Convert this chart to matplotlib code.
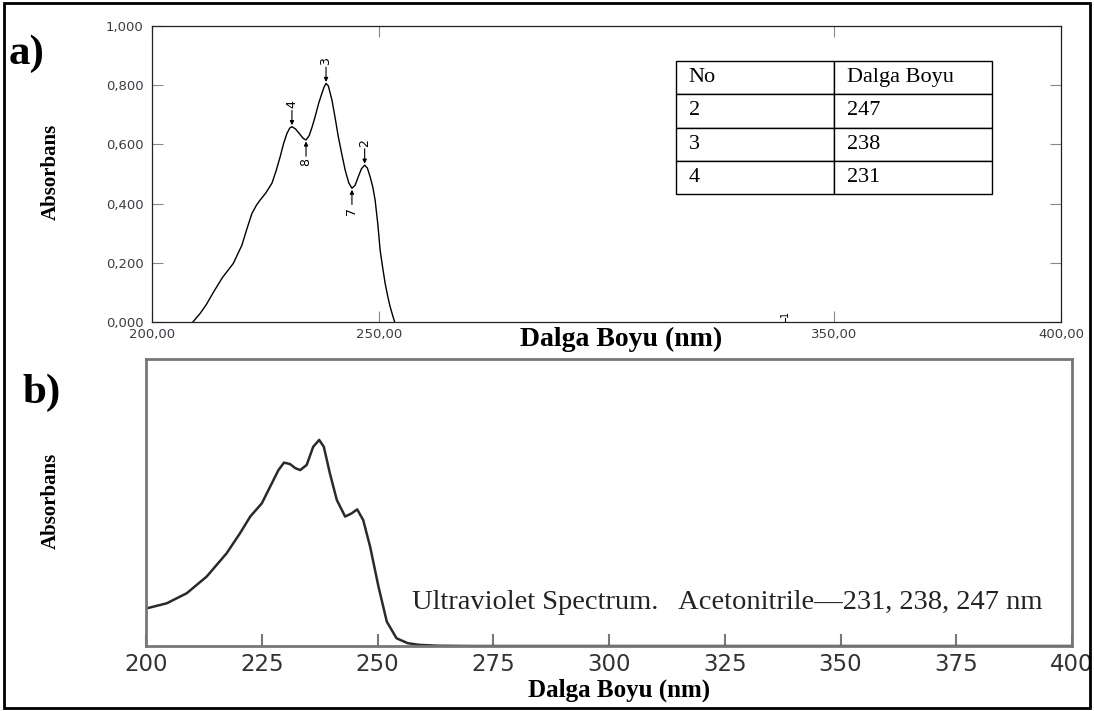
import numpy as np
import matplotlib.pyplot as plt
from matplotlib.patches import Rectangle
from matplotlib.ticker import FuncFormatter

# (a) measured spectrum, nm vs absorbance
wl_a = [209.0, 210.6, 212.0, 213.5, 215.5, 217.9, 219.8, 221.0, 222.0, 223.0,
        223.8, 225.0, 226.4, 227.3, 228.2, 229.0, 229.7, 230.3, 230.8, 231.6,
        232.5, 233.3, 233.9, 234.6, 235.3, 235.9, 236.7, 237.4, 237.9, 238.3,
        238.8, 239.6, 240.3, 241.0, 241.8, 242.5, 243.3, 244.0, 244.7, 245.4,
        246.1, 246.8, 247.4, 248.0, 248.6, 249.1, 249.7, 250.2, 250.8, 251.3,
        251.9, 252.4, 253.0, 253.4]
abs_a = [0.000, 0.029, 0.060, 0.100, 0.150, 0.198, 0.260, 0.320, 0.367, 0.395,
         0.412, 0.435, 0.469, 0.510, 0.558, 0.605, 0.637, 0.655, 0.660, 0.652,
         0.635, 0.620, 0.615, 0.630, 0.662, 0.694, 0.740, 0.773, 0.795, 0.806,
         0.798, 0.750, 0.690, 0.626, 0.565, 0.514, 0.470, 0.452, 0.462, 0.491,
         0.518, 0.530, 0.520, 0.491, 0.455, 0.412, 0.330, 0.243, 0.180, 0.131,
         0.085, 0.052, 0.020, 0.000]

# (b) reference spectrum, relative units
wl_b = [200.1, 204.5, 208.8, 213.1, 217.4, 220.3, 222.5, 225.0, 226.8, 228.6,
        229.8, 231.1, 232.2, 233.3, 234.7, 236.1, 237.4, 238.4, 239.7, 241.2,
        243.0, 244.4, 245.6, 246.9, 248.4, 250.2, 252.0, 254.1, 256.5, 259.0,
        263.0, 270.0, 300.0, 350.0, 400.0]
abs_b = [0.131, 0.149, 0.184, 0.242, 0.323, 0.393, 0.451, 0.497, 0.555, 0.613,
         0.639, 0.634, 0.620, 0.613, 0.631, 0.694, 0.718, 0.694, 0.602, 0.509,
         0.451, 0.462, 0.476, 0.439, 0.346, 0.207, 0.085, 0.027, 0.010, 0.004,
         0.001, 0.000, 0.000, 0.000, 0.000]

# peak (down arrow) and valley (up arrow) markers in panel a
peak_no = ['4', '3', '2']
peak_wl = [230.8, 238.3, 246.8]
peak_abs = [0.660, 0.806, 0.530]
valley_no = ['8', '7']
valley_wl = [233.9, 244.0]
valley_abs = [0.615, 0.452]

table_rows = [['No', 'Dalga Boyu'], ['2', '247'], ['3', '238'], ['4', '231']]

serif = 'Liberation Serif'
tick_col = '#3c3c46'

fig = plt.figure(figsize=(10.94, 7.11), dpi=100)

# ---- panel a ----
ax1 = fig.add_axes([0.1389, 0.5471, 0.8309, 0.4163])
ax1.plot(wl_a, abs_a, color='black', lw=1.0)
ax1.set_xlim(200, 400)
ax1.set_ylim(0, 1.0)
ax1.set_xticks([200, 250, 350, 400])
ax1.set_yticks([0, 0.2, 0.4, 0.6, 0.8, 1.0])
ax1.xaxis.set_major_formatter(FuncFormatter(lambda v, p: f'{v:.2f}'.replace('.', ',')))
ax1.yaxis.set_major_formatter(FuncFormatter(lambda v, p: f'{v:.3f}'.replace('.', ',')))
ax1.tick_params(axis='both', direction='in', length=8, color='#888888',
                labelsize=9.5, labelcolor=tick_col, top=True, right=True)
ax1.tick_params(axis='x', pad=4)
ax1.tick_params(axis='y', pad=6)
for s in ax1.spines.values():
    s.set_color('#222222')
    s.set_linewidth(0.9)

for n, x, y in zip(peak_no, peak_wl, peak_abs):
    ax1.annotate('', xy=(x, y + 0.005), xytext=(x, y + 0.055),
                 arrowprops=dict(arrowstyle='-|>', color='black', lw=0.8,
                                 mutation_scale=6, shrinkA=0, shrinkB=0))
    ax1.text(x, y + 0.062, n, rotation=90, ha='center', va='bottom', fontsize=9)
for n, x, y in zip(valley_no, valley_wl, valley_abs):
    ax1.annotate('', xy=(x, y - 0.005), xytext=(x, y - 0.055),
                 arrowprops=dict(arrowstyle='-|>', color='black', lw=0.8,
                                 mutation_scale=6, shrinkA=0, shrinkB=0))
    ax1.text(x, y - 0.062, n, rotation=90, ha='center', va='top', fontsize=9)
ax1.plot([339.3, 339.3], [0, 0.012], color='black', lw=0.8)
ax1.text(339.3, 0.018, '1', rotation=90, ha='center', va='bottom', fontsize=7)

tbl = ax1.table(cellText=table_rows, cellLoc='left',
                bbox=[0.5765, 0.4324, 0.3476, 0.4494])
tbl.auto_set_font_size(False)
for (r, c), cell in tbl.get_celld().items():
    cell.set_linewidth(1.0)
    cell.set_edgecolor('black')
    cell.get_text().set_fontsize(16)
    cell.get_text().set_fontfamily(serif)
    cell.PAD = 0.08

# ---- panel b ----
ax2 = fig.add_axes([0.1335, 0.0914, 0.8464, 0.4037])
ax2.plot(wl_b, abs_b, color='#2a2a2a', lw=1.8)
ax2.set_xlim(200, 400)
ax2.set_ylim(0, 1.0)
ax2.set_xticks(np.arange(200, 401, 25))
ax2.set_yticks([])
ax2.tick_params(axis='x', direction='in', length=9, width=1.5, color='#777777',
                labelsize=16.5, labelcolor='#333333', pad=5)
for s in ax2.spines.values():
    s.set_color('#777777')
    s.set_linewidth(2.0)
ax2.text(257.5, 0.153, 'Ultraviolet Spectrum.   Acetonitrile\u2014231, 238, 247 nm',
         fontfamily=serif, fontsize=20.5, color='#222222', ha='left', va='center')

# labels
lab = dict(fontfamily=serif, fontweight='bold', color='black')
fig.text(0.046, 0.758, 'Absorbans', rotation=90, ha='center', va='center', fontsize=15, **lab)
fig.text(0.046, 0.295, 'Absorbans', rotation=90, ha='center', va='center', fontsize=15, **lab)
fig.text(0.568, 0.522, 'Dalga Boyu (nm)', ha='center', va='center', fontsize=20, **lab)
fig.text(0.566, 0.029, 'Dalga Boyu (nm)', ha='center', va='center', fontsize=18, **lab)
fig.text(0.008, 0.925, 'a)', ha='left', va='center', fontsize=31, **lab)
fig.text(0.021, 0.448, 'b)', ha='left', va='center', fontsize=31, **lab)

fig.patches.append(Rectangle((0.004, 0.004), 0.992, 0.992, transform=fig.transFigure,
                             fill=False, edgecolor='black', lw=2.0))

fig.savefig('out.png', dpi=100)
